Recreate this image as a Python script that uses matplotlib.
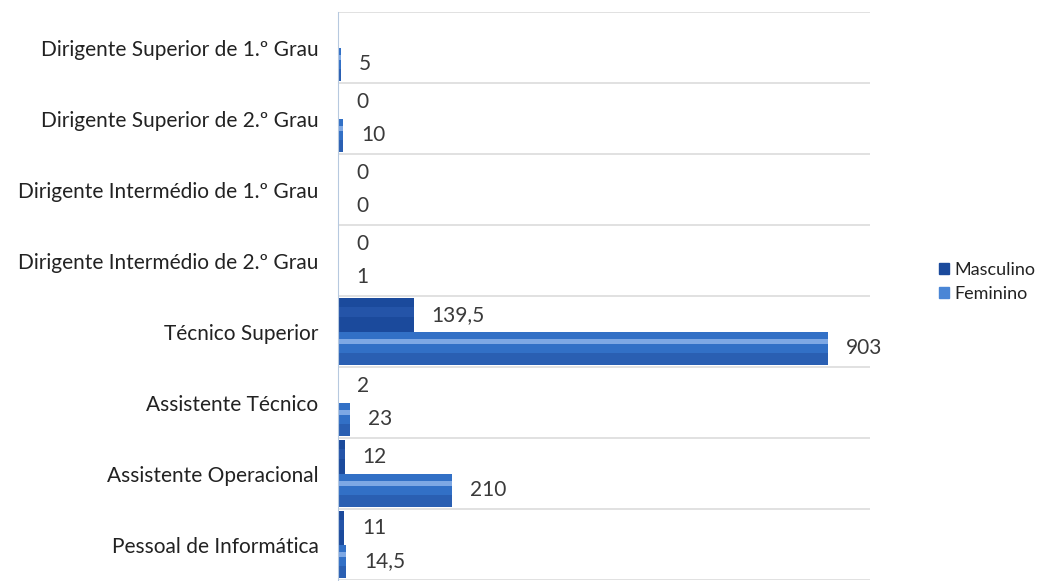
import numpy as np
import matplotlib.pyplot as plt
from matplotlib.patches import Patch

# categories top to bottom
categories = [
    "Dirigente Superior de 1.º Grau",
    "Dirigente Superior de 2.º Grau",
    "Dirigente Intermédio de 1.º Grau",
    "Dirigente Intermédio de 2.º Grau",
    "Técnico Superior",
    "Assistente Técnico",
    "Assistente Operacional",
    "Pessoal de Informática",
]
masculino = [np.nan, 0, 0, 0, 139.5, 2, 12, 11]
feminino = [5, 10, 0, 1, 903, 23, 210, 14.5]
series_names = ["Masculino", "Feminino"]

col_m = "#1b4a9c"
col_m_hi = "#2454a8"
col_f = "#3270c6"
col_f_hi = "#7ea8e4"
col_f_lo = "#2a5fb2"
text_col = "#3a3a3a"

plt.rcParams["font.family"] = ["Lato", "DejaVu Sans"]

fig = plt.figure(figsize=(10.41, 5.81), dpi=100)
ax = fig.add_axes([0.3247, 0.0017, 0.5110, 0.9776])

y = np.arange(len(categories))
h = 0.47
m = np.array(masculino, dtype=float)
f = np.array(feminino, dtype=float)
m_plot = np.nan_to_num(m)

# base bars
ax.barh(y - h / 2, m_plot, height=h, color=col_m, zorder=3)
ax.barh(y + h / 2, f, height=h, color=col_f, zorder=3)
# soft shading for a slightly cylindrical look
ax.barh(y - h / 2 - h * 0.08, m_plot, height=h * 0.3, color=col_m_hi, zorder=4)
ax.barh(y + h / 2 - h * 0.2, f, height=h * 0.14, color=col_f_hi, zorder=4)
ax.barh(y + h / 2 + h * 0.32, f, height=h * 0.36, color=col_f_lo, zorder=4)

def fmt(v):
    s = f"{v:g}"
    return s.replace(".", ",")

off = 33
for i in range(len(categories)):
    if not np.isnan(m[i]):
        ax.text(m[i] + off, i - h / 2, fmt(m[i]), va="center", ha="left",
                fontsize=15, color=text_col)
    ax.text(f[i] + off, i + h / 2, fmt(f[i]), va="center", ha="left",
            fontsize=15, color=text_col)

ax.set_xlim(0, 980)
ax.set_ylim(len(categories) - 0.5, -0.5)
ax.set_yticks(y)
ax.set_yticklabels(categories, fontsize=15, color="#222222")
ax.set_yticks(np.arange(len(categories) + 1) - 0.5, minor=True)
ax.tick_params(axis="y", which="both", length=0, pad=14)
ax.tick_params(axis="x", bottom=False, labelbottom=False)
ax.grid(axis="y", which="minor", color="#dcdcdc", linewidth=1.2, zorder=0)
ax.grid(axis="y", which="major", visible=False)
for s in ["top", "right", "bottom"]:
    ax.spines[s].set_visible(False)
ax.spines["left"].set_color("#b7c9df")
ax.spines["left"].set_zorder(5)

handles = [Patch(color=col_m), Patch(color="#4a86d6")]
fig.legend(handles, series_names, loc="center left", bbox_to_anchor=(0.89, 0.515),
           frameon=False, fontsize=13, handlelength=0.55, handleheight=0.55,
           handletextpad=0.3, labelspacing=0.45, labelcolor="#222222",
           borderpad=0.2)

fig.savefig("out.png", dpi=100, facecolor="white")
